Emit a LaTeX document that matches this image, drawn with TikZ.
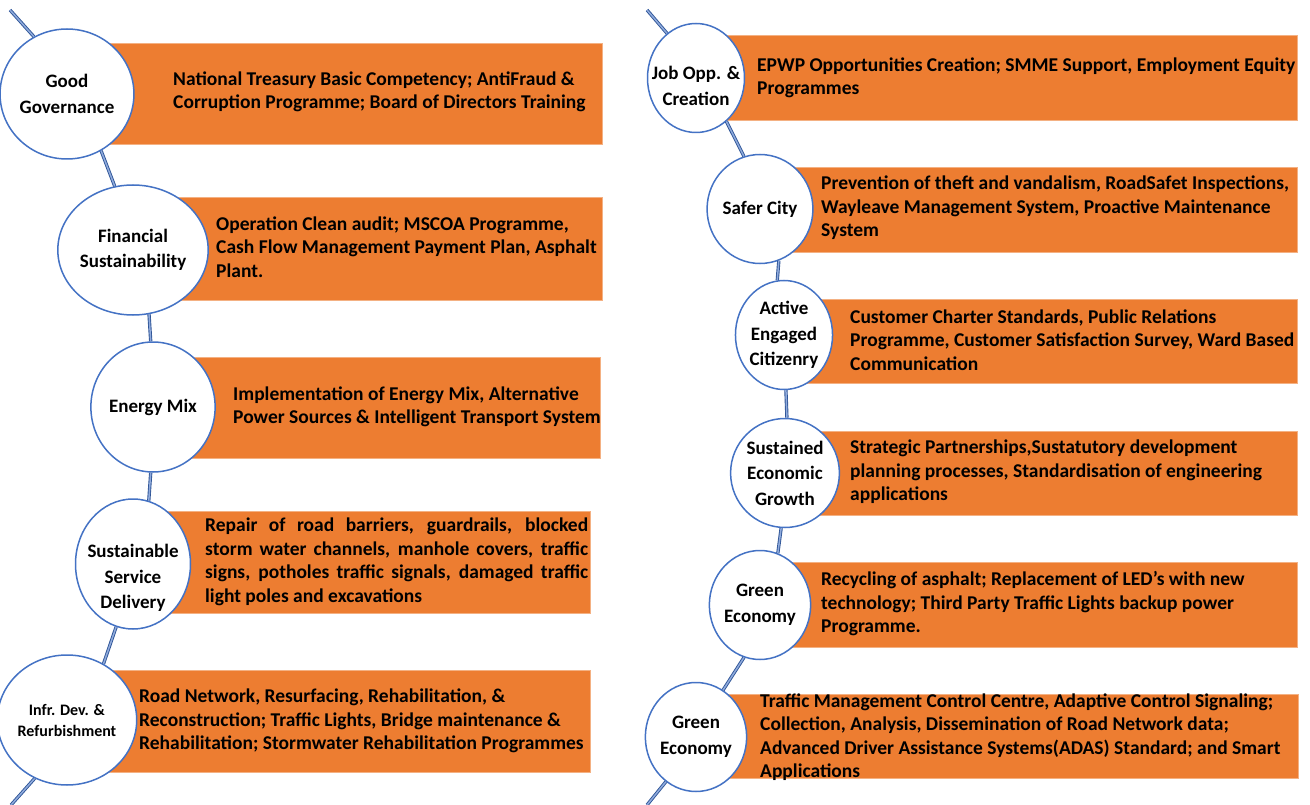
\documentclass[tikz,border=0pt]{standalone}
\usepackage{fontspec}
\setmainfont{Carlito}
\usetikzlibrary{shapes.geometric}
\definecolor{boxorange}{HTML}{ED7D31}
\definecolor{boxedge}{HTML}{F4B183}
\definecolor{ringblue}{HTML}{4472C4}
\definecolor{linkdark}{HTML}{2F5597}
\definecolor{linklight}{HTML}{8FAADC}
\tikzset{
  theme/.style={ellipse, draw=ringblue, line width=1.5pt, fill=white, inner sep=0pt,
    align=center, font=\bfseries\fontsize{19}{25.5}\selectfont},
  bigring/.style={theme, minimum width=115pt, minimum height=130pt},
  smallring/.style={theme, minimum width=97pt, minimum height=109pt},
  ringlabel/.style={align=center, inner sep=0pt, font=\bfseries\fontsize{19}{25.5}\selectfont},
  band/.style={draw=boxedge, line width=0.8pt, fill=boxorange, anchor=north west, inner sep=0pt},
  detail/.style={anchor=west, align=left, inner sep=0pt, font=\bfseries\fontsize{19.5}{23.5}\selectfont},
  link/.style={draw=linkdark, line width=0.9pt, double=linklight, double distance=1.5pt},
}
\begin{document}
\begin{tikzpicture}[x=1pt,y=-1pt]
\path[use as bounding box] (0,0) rectangle (1310,805);

% ---------- left column: orange bands ----------
\node[band, minimum width=532, minimum height=101] (b1) at (70,43) {};
\node[band, minimum width=467, minimum height=103] (b2) at (135,197) {};
\node[band, minimum width=445, minimum height=101] (b3) at (155,357) {};
\node[band, minimum width=455, minimum height=102] (b4) at (135,511) {};
\node[band, minimum width=520, minimum height=102] (b5) at (70,670) {};

% ---------- right column: orange bands ----------
\node[band, minimum width=597, minimum height=85] (b6) at (700,35) {};
\node[band, minimum width=537, minimum height=85] (b7) at (760,167) {};
\node[band, minimum width=507, minimum height=84] (b8) at (790,299) {};
\node[band, minimum width=507, minimum height=84] (b9) at (790,431) {};
\node[band, minimum width=537, minimum height=85] (b10) at (760,562) {};
\node[band, minimum width=598, minimum height=84] (b11) at (700,694) {};

% ---------- band texts ----------
\node[detail] (t1) at (173,92) {National Treasury Basic Competency; AntiFraud \&\\Corruption Programme; Board of Directors Training};
\node[detail] (t2) at (216,247) {Operation Clean audit; MSCOA Programme,\\Cash Flow Management Payment Plan, Asphalt\\Plant.};
\node[detail] (t3) at (233,407) {Implementation of Energy Mix, Alternative\\Power Sources \& Intelligent Transport System};
\node[detail, text width=383, align=justify] (t4) at (205,562) {Repair of road barriers, guardrails, blocked\linebreak storm water channels, manhole covers, traffic\linebreak signs, potholes traffic signals, damaged traffic\linebreak light poles and excavations};
\node[detail] (t5) at (139,721) {Road Network, Resurfacing, Rehabilitation, \&\\Reconstruction; Traffic Lights, Bridge maintenance \&\\Rehabilitation; Stormwater Rehabilitation Programmes};
\node[detail] (t6) at (757,78) {EPWP Opportunities Creation; SMME Support, Employment Equity\\Programmes};
\node[detail] (t7) at (821,208) {Prevention of theft and vandalism, RoadSafet Inspections,\\Wayleave Management System, Proactive Maintenance\\System};
\node[detail] (t8) at (850,340) {Customer Charter Standards, Public Relations\\Programme, Customer Satisfaction Survey, Ward Based\\Communication};
\node[detail] (t9) at (850,472) {Strategic Partnerships,Sustatutory development\\planning processes, Standardisation of engineering\\applications};
\node[detail] (t10) at (821,604) {Recycling of asphalt; Replacement of LED’s with new\\technology; Third Party Traffic Lights backup power\\Programme.};
\node[detail] (t11) at (760,737) {Traffic Management Control Centre, Adaptive Control Signaling;\\Collection, Analysis, Dissemination of Road Network data;\\Advanced Driver Assistance Systems(ADAS) Standard; and Smart\\Applications};

% ---------- theme ellipses ----------
\node[bigring] (e1) at (67,94) {Good\\Governance};
\node[bigring] (e2) at (133,250) {Financial\\Sustainability};
\node[bigring] (e3) at (153,407) {Energy Mix};
\node[bigring, label={[ringlabel, yshift=-14pt]center:Sustainable\\Service\\Delivery}] (e4) at (133,564) {};
\node[bigring, font=\bfseries\fontsize{16}{21}\selectfont] (e5) at (67,720) {Infr. Dev. \&\\Refurbishment};

\node[smallring, label={[ringlabel, yshift=-8pt]center:Job Opp. \&\\Creation}] (e6) at (696,78) {};
\node[smallring] (e7) at (760,209) {Safer City};
\node[smallring] (e8) at (784,335) {Active\\Engaged\\Citizenry};
\node[smallring] (e9) at (785,473) {Sustained\\Economic\\Growth};
\node[smallring] (e10) at (760,605) {Green\\Economy};
\node[smallring] (e11) at (696,737) {Green\\Economy};

% ---------- free ends of the chains ----------
\coordinate (top1) at (10,10);
\coordinate (bot1) at (11,805);
\coordinate (top2) at (647,10);
\coordinate (bot2) at (647,805);

% ---------- connecting chain ----------
\draw[link] (top1) -- (e1.120);
\draw[link] (e1.-59) -- (e2.106);
\draw[link] (e2.-76) -- (e3.92);
\draw[link] (e3.-92) -- (e4.76);
\draw[link] (e4.-105) -- (e5.57);
\draw[link] (e5.-119) -- (bot1);

\draw[link] (top2) -- (e6.123);
\draw[link] (e6.-55) -- (e7.107);
\draw[link] (e7.-70) -- (e8.97);
\draw[link] (e8.-88) -- (e9.88);
\draw[link] (e9.-94) -- (e10.71);
\draw[link] (e10.-107) -- (e11.60);
\draw[link] (e11.-124) -- (bot2);
\end{tikzpicture}
\end{document}
